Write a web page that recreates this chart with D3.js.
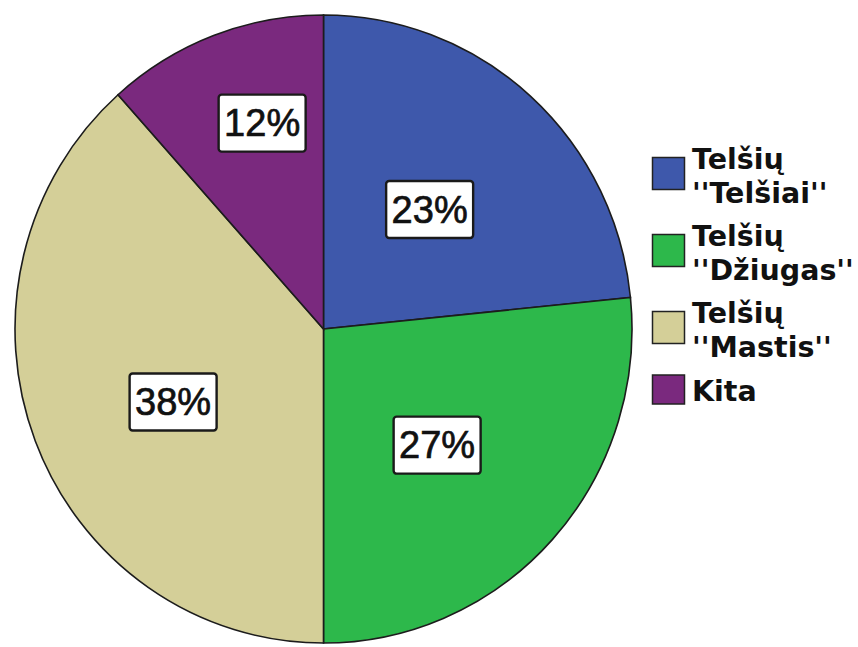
<!DOCTYPE html>
<html>
<head>
<meta charset="utf-8">
<script src="https://cdn.jsdelivr.net/npm/d3@7"></script>
<style>
  html, body { margin: 0; padding: 0; background: #fff; }
  svg { display: block; }
</style>
</head>
<body>
<svg id="chart" width="858" height="647"></svg>
<script>
// ---- data ----
const categories = ["Telšių \"Telšiai\"", "Telšių \"Džiugas\"", "Telšių \"Mastis\"", "Kita"];
const legendLines = [["Telšių", "''Telšiai''"], ["Telšių", "''Džiugas''"], ["Telšių", "''Mastis''"], ["Kita"]];
const values = [23.4, 26.6, 38.4, 11.6];
const percentLabels = ["23%", "27%", "38%", "12%"];
const colors = ["#3e58ab", "#2db84b", "#d4cf98", "#7a297e"];

// ---- layout config ----
const labelPlacement = [[0, 0.513], [3, 0.522], [-4.6, 0.54], [4, 0.685]]; // [angle shift deg, radius fraction]

const svg = d3.select("#chart");
const cx = 323.5, cy = 329, r = 308.5, yScale = 1.018;

const pie = d3.pie().sort(null).value(d => d)(values);
const arc = d3.arc().innerRadius(0).outerRadius(r);

const g = svg.append("g").attr("transform", `translate(${cx},${cy}) scale(1,${yScale})`);
g.selectAll("path.slice").data(pie).join("path")
  .attr("class", "slice")
  .attr("d", arc)
  .attr("fill", (d, i) => colors[i])
  .attr("stroke", "#1c1c1c")
  .attr("stroke-width", 1.6)
  .attr("vector-effect", "non-scaling-stroke");

// labels
const lg = svg.append("g").attr("transform", `translate(${cx},${cy})`);
pie.forEach((d, i) => {
  const mid = (d.startAngle + d.endAngle) / 2 + labelPlacement[i][0] * Math.PI / 180;
  const rr = r * labelPlacement[i][1];
  const x = Math.sin(mid) * rr;
  const y = -Math.cos(mid) * rr * yScale;
  const bw = 87, bh = 57;
  lg.append("rect")
    .attr("x", x - bw / 2).attr("y", y - bh / 2)
    .attr("width", bw).attr("height", bh)
    .attr("rx", 3)
    .attr("fill", "#fff")
    .attr("stroke", "#1a1a1a")
    .attr("stroke-width", 2.4);
  lg.append("text")
    .attr("x", x).attr("y", y)
    .attr("text-anchor", "middle")
    .attr("dominant-baseline", "central")
    .attr("font-family", "Liberation Sans, Arial, sans-serif")
    .attr("font-size", 38)
    .attr("fill", "#111")
    .attr("stroke", "#111")
    .attr("stroke-width", 0.7)
    .text(percentLabels[i]);
});

// legend
const legTop = [148, 225, 302, 380];
const leg = svg.append("g");
categories.forEach((c, i) => {
  const lines = legendLines[i];
  const top = legTop[i];
  const capH = 21, pitch = 34;
  const blockCenter = top + (capH + pitch * (lines.length - 1)) / 2;
  const sq = lines.length > 1 ? 32 : 29;
  leg.append("rect")
    .attr("x", 652.5).attr("y", blockCenter - sq / 2 - (lines.length > 1 ? 2 : 1))
    .attr("width", 32).attr("height", sq)
    .attr("fill", colors[i])
    .attr("stroke", "#222")
    .attr("stroke-width", 1.5);
  const t = leg.append("text")
    .attr("font-family", "DejaVu Sans, Verdana, sans-serif")
    .attr("font-weight", "bold")
    .attr("font-size", 28.5)
    .attr("fill", "#111");
  lines.forEach((ln, j) => {
    t.append("tspan").attr("x", 692).attr("y", top + capH + pitch * j).text(ln);
  });
});
</script>
</body>
</html>
